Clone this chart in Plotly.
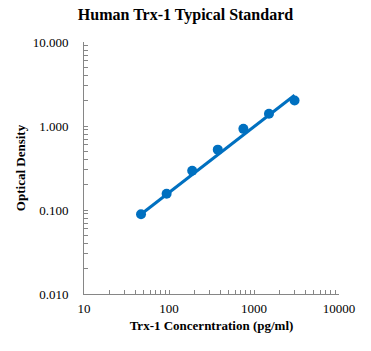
import plotly.graph_objects as go

# Data
conc = [46.875, 93.75, 187.5, 375, 750, 1500, 3000]
od = [0.089, 0.156, 0.293, 0.523, 0.925, 1.40, 2.01]
# Trend line end points
fit_x = [46.875, 3000]
fit_y = [0.089, 2.32]

x_major = [10, 100, 1000, 10000]
x_major_labels = ["10", "100", "1000", "10000"]
y_major = [0.01, 0.1, 1, 10]
y_major_labels = ["0.010", "0.100", "1.000", "10.000"]

def log_ticks(majors, labels):
    vals, texts = [], []
    for i, m in enumerate(majors):
        vals.append(m)
        texts.append(labels[i])
        if i < len(majors) - 1:
            for k in range(2, 10):
                vals.append(m * k)
                texts.append("")
    return vals, texts

xv, xt = log_ticks(x_major, x_major_labels)
yv, yt = log_ticks(y_major, y_major_labels)

blue = "#0070C0"
axis_col = "#868686"
font_fam = "Liberation Serif"

fig = go.Figure()
fig.add_trace(go.Scatter(x=fit_x, y=fit_y, mode="lines",
                         line=dict(color=blue, width=3), showlegend=False,
                         hoverinfo="skip"))
fig.add_trace(go.Scatter(x=conc, y=od, mode="markers",
                         marker=dict(color=blue, size=10), showlegend=False))

fig.update_layout(
    width=371, height=351,
    margin=dict(l=84.3, r=31.7, t=41.7, b=57),
    paper_bgcolor="white", plot_bgcolor="white",
    font=dict(family=font_fam, color="black", size=13),
    title=dict(text="<b>Human Trx-1 Typical Standard</b>", x=0.5, xanchor="center",
               y=0.958, yanchor="middle", font=dict(size=16, family=font_fam)),
)
fig.update_xaxes(
    type="log", range=[1, 4], tickvals=xv, ticktext=xt,
    ticks="inside", ticklen=4, tickcolor=axis_col, tickwidth=1,
    showline=True, linecolor=axis_col, linewidth=1, mirror=False,
    showgrid=False, zeroline=False, ticklabelstandoff=2,
    title=dict(text="<b>Trx-1 Concerntration (pg/ml)</b>", font=dict(size=13), standoff=6),
)
fig.update_yaxes(
    type="log", range=[-2, 1], tickvals=yv, ticktext=yt,
    ticks="inside", ticklen=4, tickcolor=axis_col, tickwidth=1,
    showline=True, linecolor=axis_col, linewidth=1, mirror=False,
    showgrid=False, zeroline=False, ticklabelstandoff=12,
    title=dict(text="<b>Optical Density</b>", font=dict(size=13), standoff=4),
)

fig.write_html("out.html")
